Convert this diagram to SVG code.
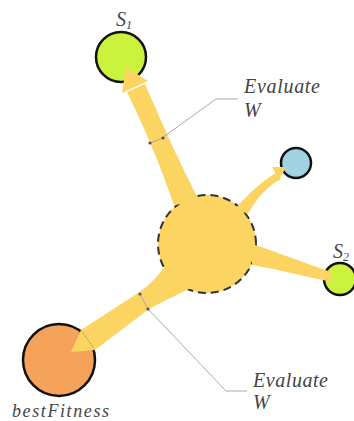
<svg xmlns="http://www.w3.org/2000/svg" width="354" height="421" viewBox="0 0 354 421">
<style>
.node{stroke:#111;stroke-width:2.5}
.flow{fill:#FCD462;stroke:none}
.band{fill:none;stroke:#FCD462;stroke-linecap:butt}
.lbl{font-family:"Liberation Serif","DejaVu Serif",serif;font-style:italic;fill:#444}
.lead{fill:none;stroke:#aaa;stroke-width:1}
.mark{fill:#555}
</style>
<rect width="354" height="421" fill="#fff"/>
<g id="center">
<circle cx="207" cy="244" r="49" fill="#FCD462" stroke="#333" stroke-width="2" stroke-dasharray="8 5"/>
</g>
<g id="s1">
<circle class="node" cx="121" cy="57" r="25" fill="#CBF23D"/>
<text class="lbl" x="116" y="26" font-size="20">S<tspan font-size="12" dy="3">1</tspan></text>
</g>
<g id="blue">
<circle class="node" cx="296" cy="163" r="15" fill="#9FD3E3"/>
</g>
<g id="s2">
<circle class="node" cx="340" cy="279" r="16" fill="#CBF23D"/>
<text class="lbl" x="333" y="258" font-size="20">S<tspan font-size="12" dy="3">2</tspan></text>
</g>
<g id="bestFitness">
<circle class="node" cx="59" cy="360" r="36" fill="#F5A25A"/>
<text class="lbl" x="12" y="417" font-size="18" textLength="97">bestFitness</text>
</g>
<g id="connectors">
<path class="flow" d="M 174 205 C 165 180 155 150 127 92 L 145 84 C 165 130 178 160 200 202 Z"/>
<polygon class="flow" points="126,67 148,81 122,93"/>
<path class="flow" d="M 81 330 L 138 293 C 150 285 160 274 168 262 L 196 286 C 182 292 166 300 149 309 L 95 350 Z"/>
<polygon class="flow" points="71,352 81,330 95,350"/>
<path class="flow" d="M 236 208 C 252 190 264 180 276 173 L 281 179 C 268 186 258 196 248 214 Z"/>
<polygon class="flow" points="286,167 279,180 272,167"/>
<path class="flow" d="M 252 244 C 276 252 302 262 331 272 L 333 282 C 302 276 276 269 252 265 Z"/>
<g id="leader-upper">
<path class="lead" d="M 238 99 L 216 99 L 162 138"/>
<path class="lead" d="M 150 143 L 163 138"/>
<circle class="mark" cx="150" cy="143" r="1.6"/>
<circle class="mark" cx="163" cy="138" r="1.6"/>
</g>
<g id="leader-lower">
<path class="lead" d="M 148 309 L 226 391 L 247 391"/>
<path class="lead" d="M 140 294 L 148 309"/>
<circle class="mark" cx="140" cy="294" r="1.6"/>
<circle class="mark" cx="148" cy="309" r="1.6"/>
</g>
</g>
<text class="lbl" x="244" y="93" font-size="20" textLength="76">Evaluate</text>
<text class="lbl" x="244" y="117" font-size="20">W</text>
<text class="lbl" x="253" y="387" font-size="20" textLength="75">Evaluate</text>
<text class="lbl" x="253" y="409" font-size="20">W</text>
</svg>
